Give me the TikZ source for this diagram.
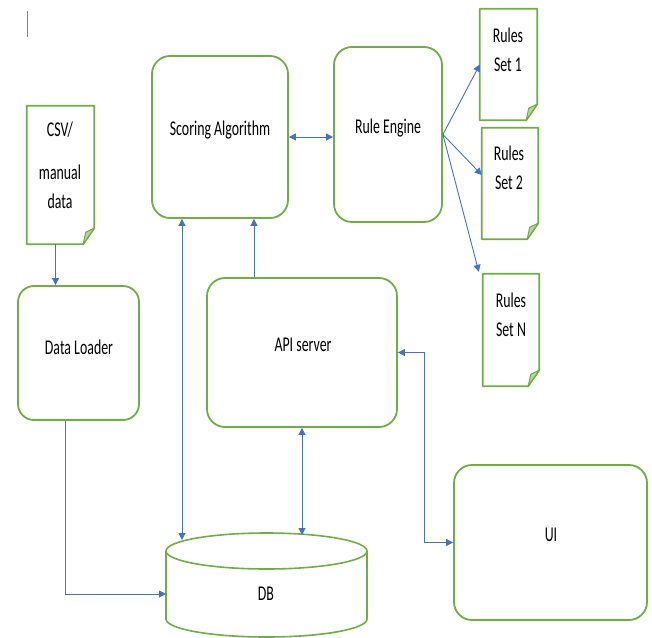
\documentclass[tikz,border=0pt]{standalone}
\usepackage{graphicx}
\usepackage{fontspec}
\setmainfont{Carlito}
\usepackage{tikz}
\usetikzlibrary{calc}
\usetikzlibrary{positioning}
\usetikzlibrary{arrows.meta}

\definecolor{boxgreen}{HTML}{70AD47}
\definecolor{foldgreen}{HTML}{B5D69C}
\definecolor{linkblue}{HTML}{4472C4}

% narrow text, as in the drawing
\newcommand{\nar}[1]{\scalebox{0.66}[1]{#1}}
% page with folded corner round a node
\newcommand{\foldeddoc}[1]{%
  \draw[docline] (#1.north west) -- (#1.north east) -- ($(#1.south east)+(0,-16)$) -- ($(#1.south east)+(-11,0)$) -- (#1.south west) -- cycle;
  \filldraw[docline, fill=foldgreen, line width=1pt] ($(#1.south east)+(0,-16)$) -- ($(#1.south east)+(-8.5,-12)$) -- ($(#1.south east)+(-11,0)$) -- cycle;}

\begin{document}
\begin{tikzpicture}[x=1pt,y=-1pt,
    box/.style={draw=boxgreen, line width=1.8pt, rounded corners=18pt, inner sep=0pt},
    doc/.style={inner sep=0pt},
    docline/.style={draw=boxgreen, line width=1.8pt, line join=round},
    lbl/.style={font=\fontsize{21}{29}\selectfont, align=center, inner sep=0pt},
    arr/.style={draw=linkblue, line width=0.9pt, -{Triangle[length=7pt,width=7pt]}},
    biarr/.style={arr, {Triangle[length=7pt,width=7pt]}-{Triangle[length=7pt,width=7pt]}}]
  \useasboundingbox (0,0) rectangle (652,637);

  % cursor mark
  \draw[gray, line width=0.8pt] (27,11) -- (27,37);

  % boxes
  \node[box, minimum width=136pt, minimum height=162pt] (score) at (220,137) {};
  \node[box, minimum width=108pt, minimum height=175pt] (rule) at (388,134.5) {};
  \node[box, minimum width=121pt, minimum height=134pt, rounded corners=16pt] (loader) at (78.5,353) {};
  \node[box, minimum width=190pt, minimum height=149pt] (api) at (302,352.5) {};
  \node[box, minimum width=193pt, minimum height=155pt] (ui) at (550.5,542.5) {};

  % documents
  \node[doc, minimum width=67pt, minimum height=138pt] (csv) at (60.5,175) {};
  \node[doc, minimum width=57pt, minimum height=111pt] (r1) at (508.5,64.5) {};
  \node[doc, minimum width=56pt, minimum height=111pt] (r2) at (510,183.5) {};
  \node[doc, minimum width=56pt, minimum height=112pt] (rN) at (511,330) {};
  \foldeddoc{csv}
  \foldeddoc{r1}
  \foldeddoc{r2}
  \foldeddoc{rN}

  % database
  \node[inner sep=0pt, minimum width=201pt, minimum height=104pt] (db) at (266.5,585) {};
  \draw[docline, line width=1.6pt] (166,551) -- (166,619) arc[start angle=180, end angle=0, x radius=100.5, y radius=18] -- (367,551);
  \draw[docline, line width=1.6pt] (266.5,551) ellipse [x radius=100.5, y radius=18];

  % Text Node
  \node[lbl] (scoretxt) at (220,130) {\nar{Scoring Algorithm}};
  \node[lbl] (ruletxt) at (388,128) {\nar{Rule Engine}};
  \node[lbl] (loadtxt) at (79,347) {\nar{Data Loader}};
  \node[lbl] (apitxt) at (303,345) {\nar{API server}};
  \node[lbl] (uitxt) at (551,535) {\nar{UI}};
  \node[lbl] (dbtxt) at (266,594) {\nar{DB}};
  \node[lbl] (csvtxt) at (60,165) {\nar{CSV/}\\[14pt]\nar{manual}\\\nar{data}};
  \node[lbl] (r1txt) at (508,49.5) {\nar{Rules}\\\nar{Set 1}};
  \node[lbl] (r2txt) at (509,167.5) {\nar{Rules}\\\nar{Set 2}};
  \node[lbl] (rNtxt) at (511,314.5) {\nar{Rules}\\\nar{Set N}};

  % connectors
  \coordinate (scoredb) at (182,540);
  \coordinate (apidb) at (302,535);
  \coordinate (loaddb) at (166,594);

  \draw[arr] ([xshift=-5pt]csv.south) -- ([xshift=-5pt]csv.south |- loader.north);
  \draw[arr] ([xshift=-13.5pt]loader.south) |- (loaddb);
  \draw[biarr] (scoredb) -- (scoredb |- score.south);
  \draw[arr] ([xshift=-48pt]api.north) -- ([xshift=-48pt]api.north |- score.south);
  \draw[biarr] (score.east) -- (score.east -| rule.west);
  \draw[arr] (rule.east) -- (r1.west);
  \draw[arr] (rule.east) -- ($(r2.west)+(0,-8.5)$);
  \draw[arr] (rule.east) -- ($(rN.north west)+(-4,-2)$);
  \draw[biarr] (api.east) -- ++(27,0) |- (ui.west);
  \draw[biarr] (api.south) -- (apidb);
\end{tikzpicture}
\end{document}
